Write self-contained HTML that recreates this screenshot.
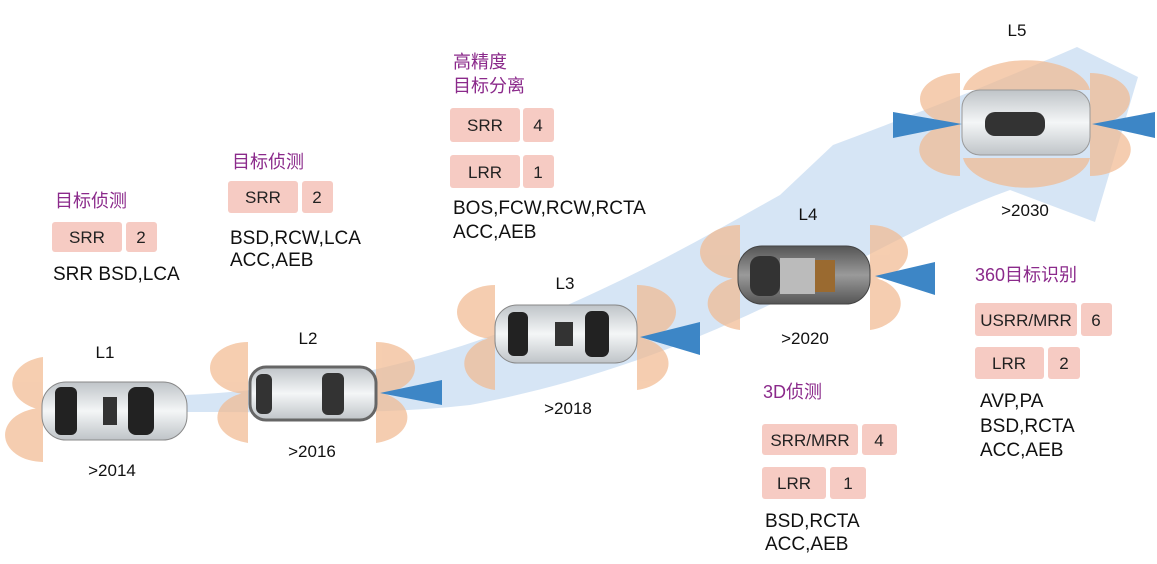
<!DOCTYPE html>
<html><head><meta charset="utf-8"><style>
body{margin:0;background:#fff}
svg text{font-family:"Liberation Sans","Noto Sans CJK SC",sans-serif}
</style></head><body>
<svg width="1157" height="559" viewBox="0 0 1157 559" xmlns="http://www.w3.org/2000/svg">
<rect width="1157" height="559" fill="#fff"/>
<path d="M185,395 C300,390 420,365 520,325 C620,285 700,240 780,195 L833,145 C900,120 990,85 1077,47 L1138,77 L1095,222 L1010,190 C940,215 880,250 800,290 C700,340 600,380 470,405 C380,415 290,412 185,412 Z" fill="#cfe0f3" opacity="0.85"/>
<g fill="#f2b98f" opacity="0.7">
<path d="M43,357 A38,27 0 0 0 43,410 Z"/>
<path d="M43,408 A38,27 0 0 0 43,462 Z"/>
<path d="M248,342 A38,26 0 0 0 248,394 Z"/>
<path d="M248,392 A38,26 0 0 0 248,443 Z"/>
<path d="M376,342 A39,26 0 0 1 376,394 Z"/>
<path d="M376,392 A39,26 0 0 1 376,443 Z"/>
<path d="M495,285 A38,27 0 0 0 495,339 Z"/>
<path d="M495,337 A38,27 0 0 0 495,390 Z"/>
<path d="M637,285 A39,27 0 0 1 637,339 Z"/>
<path d="M637,337 A39,27 0 0 1 637,390 Z"/>
<path d="M740,225 A40,27 0 0 0 740,279 Z"/>
<path d="M740,277 A40,27 0 0 0 740,330 Z"/>
<path d="M870,225 A38,27 0 0 1 870,279 Z"/>
<path d="M870,277 A38,27 0 0 1 870,330 Z"/>
<path d="M960,73 A40,26 0 0 0 960,125 Z"/>
<path d="M960,123 A40,26 0 0 0 960,176 Z"/>
<path d="M1090,73 A40,26 0 0 1 1090,125 Z"/>
<path d="M1090,123 A40,26 0 0 1 1090,176 Z"/>
<path d="M963,90 A64,34 0 0 1 1090,90 Z"/>
<path d="M963,158 A64,34 0 0 0 1090,158 Z"/>
</g>
<g fill="#3d86c6">
<polygon points="380,393 442,380 442,405"/>
<polygon points="640,337 700,322 700,355"/>
<polygon points="875,276 935,262 935,295"/>
<polygon points="962,124 893,112 893,138"/>
<polygon points="1092,124 1155,112 1155,138"/>
</g>
<defs>
<linearGradient id="w" x1="0" y1="0" x2="0" y2="1"><stop offset="0" stop-color="#bfc4c8"/><stop offset=".5" stop-color="#f4f6f7"/><stop offset="1" stop-color="#bfc4c8"/></linearGradient>
<linearGradient id="g" x1="0" y1="0" x2="0" y2="1"><stop offset="0" stop-color="#555"/><stop offset=".5" stop-color="#9a9a9a"/><stop offset="1" stop-color="#555"/></linearGradient>
</defs>
<rect x="42" y="382" width="145" height="58" rx="24" fill="url(#w)" stroke="#888"/>
<rect x="55" y="387" width="22" height="48" rx="6" fill="#222"/><rect x="128" y="387" width="26" height="48" rx="8" fill="#222"/><rect x="103" y="397" width="14" height="28" fill="#333"/>
<rect x="250" y="367" width="126" height="53" rx="16" fill="url(#w)" stroke="#666" stroke-width="3"/>
<rect x="256" y="374" width="16" height="40" rx="6" fill="#333"/><rect x="322" y="373" width="22" height="42" rx="6" fill="#333"/>
<rect x="495" y="305" width="142" height="58" rx="22" fill="url(#w)" stroke="#888"/>
<rect x="508" y="312" width="20" height="44" rx="6" fill="#222"/><rect x="585" y="311" width="24" height="46" rx="7" fill="#222"/><rect x="555" y="322" width="18" height="24" fill="#333"/>
<rect x="738" y="246" width="132" height="58" rx="24" fill="url(#g)" stroke="#444"/>
<rect x="750" y="256" width="30" height="40" rx="10" fill="#333"/><rect x="780" y="258" width="35" height="36" fill="#bbb"/><rect x="815" y="260" width="20" height="32" fill="#9a6a30"/>
<rect x="962" y="90" width="128" height="65" rx="18" fill="url(#w)" stroke="#999"/>
<rect x="985" y="112" width="60" height="24" rx="10" fill="#333"/>
<g font-size="17" fill="#111" text-anchor="middle">
<text x="105" y="358">L1</text><text x="112" y="476">&gt;2014</text>
<text x="308" y="344">L2</text><text x="312" y="457">&gt;2016</text>
<text x="565" y="289">L3</text><text x="568" y="414">&gt;2018</text>
<text x="808" y="220">L4</text><text x="805" y="344">&gt;2020</text>
<text x="1017" y="36">L5</text><text x="1025" y="216">&gt;2030</text>
</g>
<g fill="#f6cbc3">
<rect x="52" y="222" width="70" height="30" rx="3"/><rect x="126" y="222" width="31" height="30" rx="3"/>
<rect x="228" y="181" width="70" height="32" rx="3"/><rect x="302" y="181" width="31" height="32" rx="3"/>
<rect x="450" y="108" width="70" height="34" rx="3"/><rect x="523" y="108" width="31" height="34" rx="3"/>
<rect x="450" y="155" width="70" height="33" rx="3"/><rect x="523" y="155" width="31" height="33" rx="3"/>
<rect x="762" y="424" width="96" height="31" rx="3"/><rect x="862" y="424" width="35" height="31" rx="3"/>
<rect x="762" y="467" width="64" height="32" rx="3"/><rect x="830" y="467" width="36" height="32" rx="3"/>
<rect x="975" y="303" width="102" height="33" rx="3"/><rect x="1081" y="303" width="31" height="33" rx="3"/>
<rect x="975" y="347" width="69" height="32" rx="3"/><rect x="1048" y="347" width="32" height="32" rx="3"/>
</g>
<g font-size="17" fill="#222" text-anchor="middle">
<text x="87" y="243">SRR</text><text x="141" y="243">2</text>
<text x="263" y="203">SRR</text><text x="317" y="203">2</text>
<text x="485" y="131">SRR</text><text x="538" y="131">4</text>
<text x="485" y="178">LRR</text><text x="538" y="178">1</text>
<text x="810" y="446">SRR/MRR</text><text x="879" y="446">4</text>
<text x="794" y="489">LRR</text><text x="848" y="489">1</text>
<text x="1026" y="326">USRR/MRR</text><text x="1096" y="326">6</text>
<text x="1009" y="369">LRR</text><text x="1064" y="369">2</text>
</g>
<g font-size="18" fill="#8b2a8b">
<text x="55" y="207">目标侦测</text>
<text x="232" y="168">目标侦测</text>
<text x="453" y="68">高精度</text><text x="453" y="92">目标分离</text>
<text x="763" y="398">3D侦测</text>
<text x="975" y="281">360目标识别</text>
</g>
<g font-size="19" fill="#111">
<text x="53" y="280">SRR BSD,LCA</text>
<text x="230" y="244">BSD,RCW,LCA</text><text x="230" y="266">ACC,AEB</text>
<text x="453" y="214">BOS,FCW,RCW,RCTA</text><text x="453" y="238">ACC,AEB</text>
<text x="765" y="527">BSD,RCTA</text><text x="765" y="550">ACC,AEB</text>
<text x="980" y="407">AVP,PA</text><text x="980" y="432">BSD,RCTA</text><text x="980" y="456">ACC,AEB</text>
</g>
</svg>
</body></html>
